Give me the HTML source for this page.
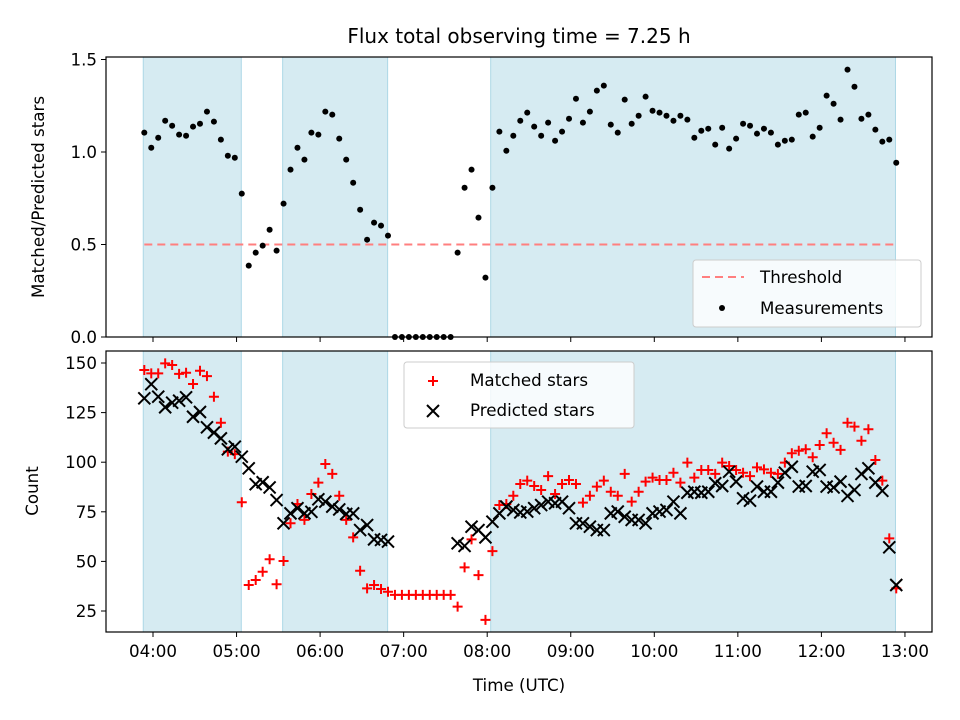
<!DOCTYPE html>
<html><head><meta charset="utf-8">
<style>
html,body{margin:0;padding:0;background:#fff;}
svg{display:block;font-family:"DejaVu Sans","Liberation Sans",sans-serif;}
</style></head>
<body>
<svg id="chart" width="960" height="720" viewBox="0 0 960 720" xmlns="http://www.w3.org/2000/svg">
<rect x="0" y="0" width="960" height="720" fill="#fff"/>
<text x="519" y="43" font-size="20" text-anchor="middle" fill="#000">Flux total observing time = 7.25 h</text>
<g id="topPanel"></g>
<g id="botPanel"></g>
<text x="44" y="197" font-size="16.7" text-anchor="middle" transform="rotate(-90 44 197)">Matched/Predicted stars</text>
<text x="38" y="491" font-size="16.7" text-anchor="middle" transform="rotate(-90 38 491)">Count</text>
<text x="519" y="691" font-size="16.7" text-anchor="middle">Time (UTC)</text>
</svg>
<script>
// ---- data ----
const startMinutes = 233.75;   // first sample time (minutes after 00:00)
const stepMinutes = 5;
const shadeStart = [233.0, 333.1, 482.5];
const shadeEnd = [303.4, 408.5, 773.2];
const threshold = 0.5;
const ratio = [1.105,1.023,1.077,1.169,1.142,1.094,1.088,1.137,1.153,1.218,1.164,1.067,0.980,0.969,0.775,0.386,0.456,0.494,0.580,0.467,
0.721,0.905,1.023,0.959,1.105,1.094,1.218,1.202,1.072,0.959,0.834,0.688,0.526,0.618,0.602,0.548,0,0,0,0,
0,0,0,0,0,0.456,0.807,0.905,0.645,0.321,0.807,1.110,1.007,1.088,1.169,1.213,1.137,1.088,1.159,1.061,
1.110,1.180,1.288,1.159,1.218,1.332,1.359,1.148,1.105,1.283,1.153,1.196,1.299,1.223,1.213,1.196,1.169,1.196,1.175,1.077,
1.115,1.126,1.040,1.131,1.018,1.072,1.153,1.142,1.099,1.126,1.105,1.040,1.061,1.067,1.202,1.213,1.083,1.131,1.305,1.261,
1.175,1.445,1.353,1.180,1.202,1.121,1.056,1.067,0.942];
const matched = [146.5,144.8,144.8,149.8,149.0,144.5,145.1,139.4,146.1,143.4,133.0,119.9,105.3,104.1,79.8,38.1,40.6,44.8,51.1,38.5,
50.2,69.2,78.9,70.9,84.0,89.7,99.1,94.1,83.1,70.9,62.1,45.3,36.4,38.1,36.1,34.7,33.1,33.1,33.1,33.1,
33.1,33.1,33.1,33.1,33.1,27.2,47.0,61.1,43.1,20.5,55.2,78.4,78.9,83.1,89.0,90.7,88.0,86.0,93.0,84.0,
89.0,91.0,89.0,79.6,83.1,87.7,90.7,85.1,83.1,94.1,80.1,85.1,90.2,92.2,91.0,91.0,94.7,89.7,99.8,92.2,
96.1,96.1,94.1,99.8,98.1,96.1,94.7,93.0,97.4,96.4,94.7,94.1,99.8,104.5,105.8,106.5,102.5,108.7,114.6,109.8,
106.2,119.9,117.9,110.8,116.6,101.1,90.7,61.6,36.4];
const predicted = [132.2,139.3,133.0,127.7,130.0,131.0,132.7,122.9,125.3,117.6,114.9,112.0,106.5,107.8,102.8,96.9,88.9,89.9,87.3,80.9,
69.2,74.2,76.8,74.2,75.0,81.3,80.1,77.6,76.2,73.9,74.2,65.8,68.3,61.1,60.8,60.0,null,null,null,null,
null,null,null,null,null,59.1,57.8,67.5,65.8,62.1,70.0,74.2,77.6,75.9,74.7,75.1,76.8,78.4,80.1,79.3,
80.1,76.8,69.2,69.2,67.5,65.8,65.8,74.2,75.1,72.5,70.9,70.9,69.2,74.2,75.1,75.9,80.1,74.2,84.6,85.1,
84.6,85.1,89.4,88.0,95.2,90.2,81.8,80.6,87.7,85.1,85.1,89.7,94.7,97.7,87.7,88.0,95.2,96.1,87.7,87.3,
90.2,83.0,86.0,94.1,96.9,89.7,85.6,57.1,38.1];
const xTickHours = [4,5,6,7,8,9,10,11,12,13];
const topTicks = [0,0.5,1.0,1.5];
const botTicks = [25,50,75,100,125,150];

// ---- axes ----
const NS = 'http://www.w3.org/2000/svg';
const L = 106, R = 932;
const T1 = 57, B1 = 337, T2 = 351, B2 = 632;
function xs(min){ return 153 + (min - 240) * 83.55 / 60; }
function y1(v){ return 337 - v * 185; }
function y2(v){ return 611 - (v - 25) * 1.984; }
function mk(tag, attrs, parent){
  const e = document.createElementNS(NS, tag);
  for (const k in attrs) e.setAttribute(k, attrs[k]);
  parent.appendChild(e); return e;
}
const topG = document.getElementById('topPanel');
const botG = document.getElementById('botPanel');

function shades(g, T, B){
  for (let i = 0; i < shadeStart.length; i++){
    const r = mk('rect', {x: xs(shadeStart[i]), y: T, width: xs(shadeEnd[i]) - xs(shadeStart[i]), height: B - T, fill: '#add8e6', 'fill-opacity': 0.5, stroke: '#add8e6', 'stroke-width': 1}, g);
    
    
  }
}
function frame(g, T, B, name, labels){
  for (const h of xTickHours){
    const x = xs(h * 60);
    const t = mk('line', {x1: x, x2: x, y1: B, y2: B + 5, stroke: '#000', 'stroke-width': 1}, g);
    
    
    if (labels){
      const tx = mk('text', {x: x, y: B + 25, 'font-size': 16.7, 'text-anchor': 'middle'}, g);
      tx.textContent = (h < 10 ? '0' : '') + h + ':00';
      
      
    }
  }
  const f = mk('rect', {x: L, y: T, width: R - L, height: B - T, fill: 'none', stroke: '#000', 'stroke-width': 1.2}, g);
  
  
}
function yticks(g, ticks, yf, fmt){
  for (const v of ticks){
    const y = yf(v);
    const t = mk('line', {x1: L - 5, x2: L, y1: y, y2: y, stroke: '#000', 'stroke-width': 1}, g);
    
    
    const tx = mk('text', {x: L - 9, y: y + 6, 'font-size': 16.7, 'text-anchor': 'end'}, g);
    tx.textContent = fmt(v);
    
    
  }
}

// top panel
shades(topG, T1, B1);
const thr = mk('line', {x1: xs(startMinutes), x2: xs(startMinutes + stepMinutes * (ratio.length - 1)), y1: y1(threshold), y2: y1(threshold), stroke: '#ff7f7f', 'stroke-width': 2, 'stroke-dasharray': '8,5'}, topG);


ratio.forEach((v, i) => {
  const c = mk('circle', {cx: xs(startMinutes + i * stepMinutes), cy: y1(v), r: 3, fill: '#000'}, topG);
  
  
});
frame(topG, T1, B1, 'top-axes-frame', false);
yticks(topG, topTicks, y1, v => v.toFixed(1));

// bottom panel
shades(botG, T2, B2);
function plus(g, x, y){
  return mk('path', {d: `M${x-5},${y}H${x+5}M${x},${y-5}V${y+5}`, stroke: '#f00', 'stroke-width': 2, fill: 'none'}, g);
}
function cross(g, x, y){
  return mk('path', {d: `M${x-6},${y-6}L${x+6},${y+6}M${x-6},${y+6}L${x+6},${y-6}`, stroke: '#000', 'stroke-width': 2, fill: 'none'}, g);
}
matched.forEach((v, i) => {
  if (v == null) return;
  const p = plus(botG, xs(startMinutes + i * stepMinutes), y2(v));
  
  
});
predicted.forEach((v, i) => {
  if (v == null) return;
  const p = cross(botG, xs(startMinutes + i * stepMinutes), y2(v));
  
  
});
frame(botG, T2, B2, 'bottom-axes-frame', true);
yticks(botG, botTicks, y2, v => String(v));

// legends
const lg1 = mk('g', {}, topG);


mk('rect', {x: 693, y: 260, width: 228, height: 67, rx: 3, fill: '#fff', 'fill-opacity': 0.8, stroke: '#ccc'}, lg1);
mk('line', {x1: 702, x2: 744, y1: 277, y2: 277, stroke: '#ff7f7f', 'stroke-width': 2, 'stroke-dasharray': '8,5'}, lg1);
mk('circle', {cx: 722, cy: 308, r: 3, fill: '#000'}, lg1);
let t = mk('text', {x: 760, y: 283, 'font-size': 16.7}, lg1); t.textContent = 'Threshold';


t = mk('text', {x: 760, y: 314, 'font-size': 16.7}, lg1); t.textContent = 'Measurements';



const lg2 = mk('g', {}, botG);


mk('rect', {x: 404, y: 362, width: 230, height: 66, rx: 3, fill: '#fff', 'fill-opacity': 0.8, stroke: '#ccc'}, lg2);
plus(lg2, 433, 381);
cross(lg2, 433, 411);
t = mk('text', {x: 470, y: 386, 'font-size': 16.7}, lg2); t.textContent = 'Matched stars';


t = mk('text', {x: 470, y: 416, 'font-size': 16.7}, lg2); t.textContent = 'Predicted stars';


</script>
</body></html>
